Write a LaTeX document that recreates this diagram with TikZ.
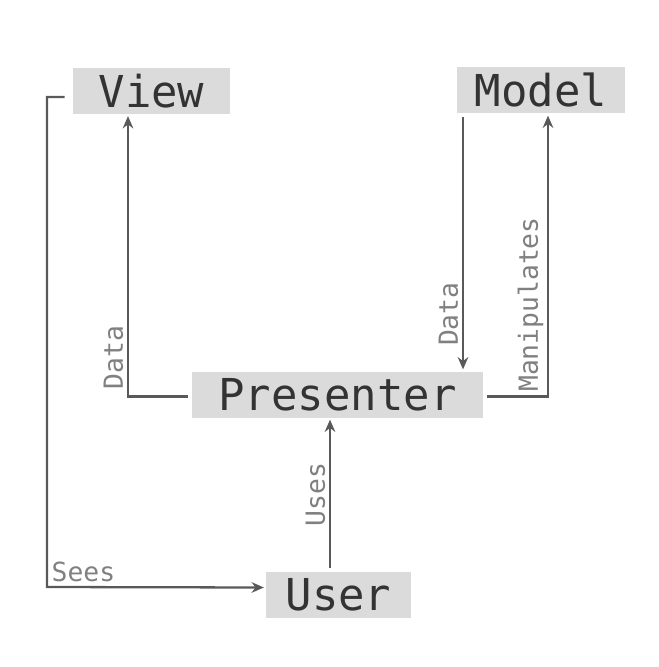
\documentclass[tikz,border=0pt]{standalone}
\usepackage{fontspec}
\setmonofont{DejaVu Sans Mono}
\usetikzlibrary{arrows.meta}
\begin{document}
\begin{tikzpicture}[
      box/.style={fill=black!14, text=black!80, font=\ttfamily\fontsize{25}{30}\selectfont,
        minimum height=0.92cm, inner sep=0pt},
      lbl/.style={text=black!50, font=\ttfamily\fontsize{15}{18}\selectfont, inner sep=2pt},
      link/.style={draw=black!65, line width=1.3pt, -{Stealth[length=7pt,width=6pt]},
        shorten <=2pt, shorten >=1pt}]
    \useasboundingbox (0,0) rectangle (13.16,-13.34);
    \node[box, minimum width=3.14cm] (V) at (3.03,-1.82) {View};        % top left
    \node[box, minimum width=3.36cm] (M) at (10.82,-1.81) {Model};      % top right
    \node[box, minimum width=5.82cm] (P) at (6.75,-7.89) {Presenter};   % middle
    \node[box, minimum width=2.90cm] (U) at (6.77,-11.89) {User};       % bottom
    % Presenter talks to view and model
    \draw[link] ([yshift=-0.04cm]P.west) -| node[lbl, pos=0.505, rotate=90, anchor=south west] {Data} (2.56,-2.28 |- V.south);
    \draw[link] (9.26,-2.26 |- M.south) -- node[lbl, pos=0.92, rotate=90, anchor=south west] {Data} (9.26,-7 |- P.north);
    \draw[link] ([yshift=-0.04cm]P.east) -| node[lbl, pos=0.5, rotate=90, anchor=south west] {Manipulates} (10.96,-2 |- M.south);
    % User side
    \draw[link] (6.6,-11 |- U.north) -- node[lbl, midway, rotate=90, anchor=south] {Uses} (6.6,-8 |- P.south);
    \draw[link, shorten <=4.5pt] ([yshift=-0.12cm]V.west) -- (0.94,-1.94) -- (0.94,-11.74)
      node[lbl, anchor=south west] {Sees} -- ([yshift=0.14cm]U.west);
  \end{tikzpicture}
\end{document}
